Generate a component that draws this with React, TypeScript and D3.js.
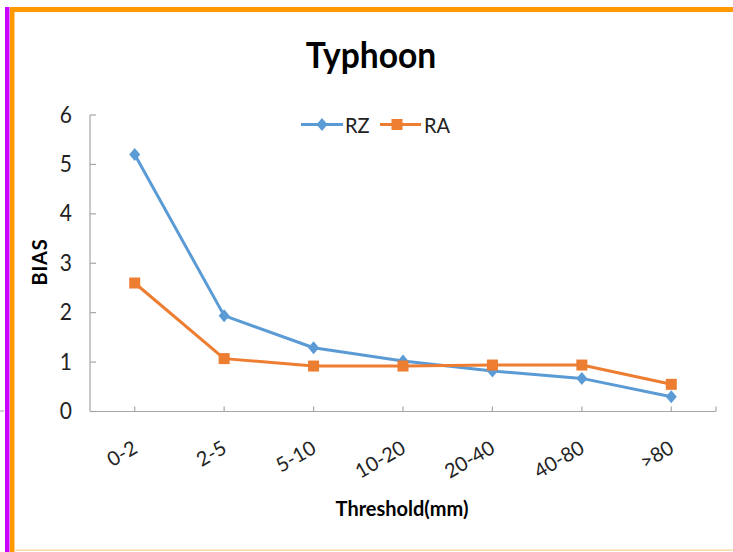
import React from "react";
import * as d3 from "d3";

const categories = ["0-2", "2-5", "5-10", "10-20", "20-40", "40-80", ">80"];
const rzValues = [5.2, 1.94, 1.29, 1.02, 0.82, 0.67, 0.3];
const raValues = [2.6, 1.07, 0.92, 0.92, 0.94, 0.94, 0.55];
const yTicks = [0, 1, 2, 3, 4, 5, 6];

const W = 733;
const H = 552;
const FONT = "Lato, 'Open Sans', sans-serif";
const BLUE = "#5b9bd5";
const ORANGE = "#ed7d31";
const AXIS = "#a6a6a6";

const plot = { left: 90, right: 716, top: 115, bottom: 411.5 };

// Square-ish diamond marker
const diamond = "M0,-6.5L5.5,0L0,6.5L-5.5,0Z";

export default function App() {
  const x = d3
    .scaleBand<string>()
    .domain(categories)
    .range([plot.left, plot.right]);
  const cx = (c: string) => (x(c) as number) + x.bandwidth() / 2;
  const y = d3.scaleLinear().domain([0, 6]).range([plot.bottom, plot.top]);

  const line = d3
    .line<number>()
    .x((_, i) => cx(categories[i]))
    .y((v) => y(v));

  return (
    <svg
      width={W}
      height={H}
      viewBox={`0 0 ${W} ${H}`}
      style={{ position: "absolute", left: 0, top: 0, background: "#fff" }}
    >
      <rect x={0} y={0} width={W} height={H} fill="#fff" />
      {/* frame strokes */}
      <rect x={5} y={7} width={4.5} height={H - 7} fill="#cc00ff" />
      <rect x={10} y={7} width={4.5} height={H - 7} fill="#ff9900" />
      <rect x={10} y={7} width={W - 10} height={5} fill="#ff9900" />
      <rect x={14} y={549.5} width={W - 14} height={1.5} fill="#fcd9a6" />
      <rect x={0} y={410.5} width={4} height={1} fill={AXIS} />

      {/* title */}
      <text
        transform="translate(371,68) scale(0.96,1.06)"
        textAnchor="middle"
        fontFamily={FONT}
        fontWeight="bold"
        fontSize={35}
        fill="#000"
      >
        Typhoon
      </text>

      {/* y axis */}
      <line x1={plot.left} x2={plot.left} y1={plot.top} y2={plot.bottom} stroke={AXIS} strokeWidth={1.2} />
      {yTicks.map((t) => (
        <g key={t}>
          <line x1={plot.left} x2={plot.left + 6} y1={y(t)} y2={y(t)} stroke={AXIS} strokeWidth={1.2} />
          <text
            transform={`translate(72,${y(t) + 7.5}) scale(1,1.08)`}
            textAnchor="end"
            fontFamily={FONT}
            fontSize={21}
            fill="#222"
          >
            {t}
          </text>
        </g>
      ))}

      {/* x axis */}
      <line x1={plot.left} x2={plot.right} y1={plot.bottom} y2={plot.bottom} stroke={AXIS} strokeWidth={1.2} />
      {[...categories.map(cx), plot.right].map((px, i) => (
        <line key={i} x1={px} x2={px} y1={plot.bottom} y2={plot.bottom - 5} stroke={AXIS} strokeWidth={1.2} />
      ))}
      {categories.map((c) => (
        <text
          key={c}
          transform={`translate(${cx(c) + 4},${452}) rotate(-30)`}
          textAnchor="end"
          fontFamily={FONT}
          fontSize={20}
          fill="#222"
        >
          {c}
        </text>
      ))}

      {/* axis titles */}
      <text
        transform={`translate(47,262) rotate(-90)`}
        textAnchor="middle"
        fontFamily={FONT}
        fontWeight="bold"
        fontSize={20}
        letterSpacing={0.8}
        fill="#000"
      >
        BIAS
      </text>
      <text
        transform="translate(402,516) scale(1,1.06)"
        textAnchor="middle"
        fontFamily={FONT}
        fontWeight="bold"
        fontSize={20}
        fill="#000"
      >
        Threshold(mm)
      </text>

      {/* series */}
      <path d={line(rzValues) || ""} fill="none" stroke={BLUE} strokeWidth={3} strokeLinejoin="round" />
      <path d={line(raValues) || ""} fill="none" stroke={ORANGE} strokeWidth={3} strokeLinejoin="round" />
      {rzValues.map((v, i) => (
        <path key={`rz${i}`} d={diamond} transform={`translate(${cx(categories[i])},${y(v)})`} fill={BLUE} />
      ))}
      {raValues.map((v, i) => (
        <rect key={`ra${i}`} x={cx(categories[i]) - 5.5} y={y(v) - 5.5} width={11} height={11} fill={ORANGE} />
      ))}

      {/* legend */}
      <line x1={301} x2={343} y1={124.5} y2={124.5} stroke={BLUE} strokeWidth={3} />
      <path d={diamond} transform="translate(322,124.5)" fill={BLUE} />
      <text transform="translate(345,132.5) scale(1,1.08)" fontFamily={FONT} fontSize={20} fill="#222">
        RZ
      </text>
      <line x1={380} x2={421} y1={124.5} y2={124.5} stroke={ORANGE} strokeWidth={3} />
      <rect x={391.5} y={119} width={11} height={11} fill={ORANGE} />
      <text transform="translate(424,132.5) scale(1,1.08)" fontFamily={FONT} fontSize={20} fill="#222">
        RA
      </text>
    </svg>
  );
}
